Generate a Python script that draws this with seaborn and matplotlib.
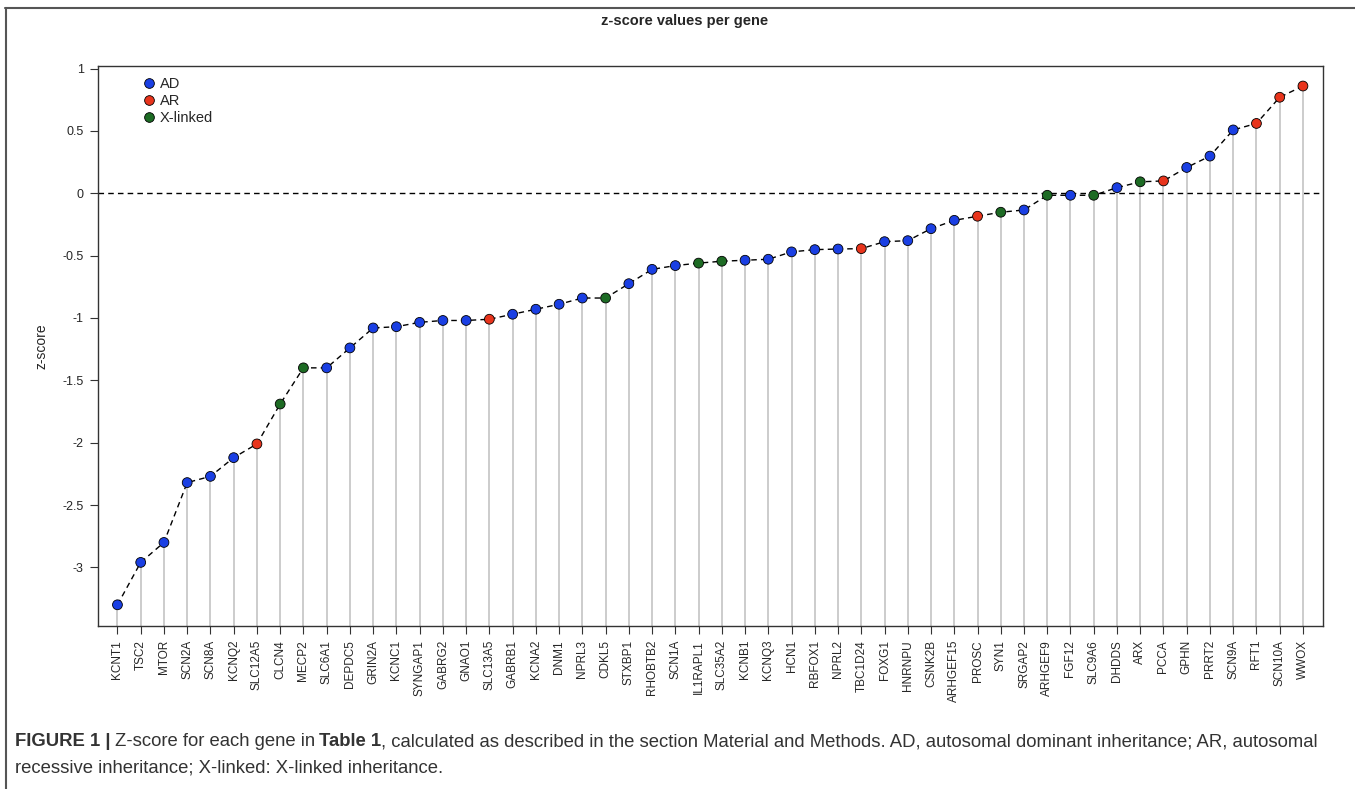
import matplotlib
matplotlib.use("Agg")
import matplotlib.pyplot as plt
import matplotlib.lines as mlines
import pandas as pd
import seaborn as sns

# genes ordered by z-score, as in the figure
genes = ["KCNT1", "TSC2", "MTOR", "SCN2A", "SCN8A", "KCNQ2", "SLC12A5", "CLCN4",
         "MECP2", "SLC6A1", "DEPDC5", "GRIN2A", "KCNC1", "SYNGAP1", "GABRG2", "GNAO1",
         "SLC13A5", "GABRB1", "KCNA2", "DNM1", "NPRL3", "CDKL5", "STXBP1", "RHOBTB2",
         "SCN1A", "IL1RAPL1", "SLC35A2", "KCNB1", "KCNQ3", "HCN1", "RBFOX1", "NPRL2",
         "TBC1D24", "FOXG1", "HNRNPU", "CSNK2B", "ARHGEF15", "PROSC", "SYN1", "SRGAP2",
         "ARHGEF9", "FGF12", "SLC9A6", "DHDDS", "ARX", "PCCA", "GPHN", "PRRT2",
         "SCN9A", "RFT1", "SCN10A", "WWOX"]
zscores = [-3.30, -2.96, -2.80, -2.32, -2.27, -2.12, -2.01, -1.69,
           -1.40, -1.40, -1.24, -1.08, -1.07, -1.035, -1.02, -1.02,
           -1.01, -0.97, -0.93, -0.89, -0.84, -0.84, -0.725, -0.61,
           -0.58, -0.56, -0.545, -0.537, -0.529, -0.47, -0.452, -0.447,
           -0.444, -0.388, -0.38, -0.284, -0.217, -0.184, -0.152, -0.134,
           -0.016, -0.016, -0.016, 0.045, 0.092, 0.099, 0.207, 0.298,
           0.508, 0.56, 0.77, 0.86]
inheritance = ["AD", "AD", "AD", "AD", "AD", "AD", "AR", "X-linked",
               "X-linked", "AD", "AD", "AD", "AD", "AD", "AD", "AD",
               "AR", "AD", "AD", "AD", "AD", "X-linked", "AD", "AD",
               "AD", "X-linked", "X-linked", "AD", "AD", "AD", "AD", "AD",
               "AR", "AD", "AD", "AD", "AD", "AR", "X-linked", "AD",
               "X-linked", "AD", "X-linked", "AD", "X-linked", "AR", "AD", "AD",
               "AD", "AR", "AR", "AR"]
groups = ["AD", "AR", "X-linked"]
yticks = [-3, -2.5, -2, -1.5, -1, -0.5, 0, 0.5, 1]

palette = {"AD": "#1a3fe3", "AR": "#e8341c", "X-linked": "#1d6b24"}

sns.set_style("ticks")
plt.rcParams['font.family'] = ['Liberation Sans', 'DejaVu Sans']

df = pd.DataFrame({"gene": genes, "z": zscores, "inh": inheritance})
df["pos"] = range(1, len(df) + 1)

W, H = 1355, 789
fig = plt.figure(figsize=(W / 100, H / 100), dpi=100)
ax = fig.add_axes([97.7 / W, 163 / H, 1225 / W, 560.3 / H])
ylo, yhi = -3.47, 1.023

# stems down to the bottom of the box
ax.vlines(df["pos"], ylo, df["z"], color="#c4c4c4", lw=1.2, zorder=1)
ax.axhline(0, color="black", lw=1, ls=(0, (4, 3)), zorder=2)
sns.lineplot(data=df, x="pos", y="z", color="black", lw=1, linestyle=(0, (4, 3)),
             ax=ax, zorder=3)
sns.scatterplot(data=df, x="pos", y="z", hue="inh", hue_order=groups, palette=palette,
                s=50, edgecolor="black", linewidth=0.6, ax=ax, zorder=4, legend=False)

ax.set_xlim(0.15, len(df) + 0.85)
ax.set_ylim(ylo, yhi)
ax.set_xticks(df["pos"])
ax.set_xticklabels(df["gene"], rotation=90, fontsize=8.5)
ax.set_yticks(yticks)
ax.set_yticklabels([f"{t:g}" for t in yticks], fontsize=9)
ax.tick_params(length=6, width=0.8, color="#333333", pad=4)
ax.set_xlabel("")
ax.set_ylabel("z-score", fontsize=10, labelpad=10)
for sp in ax.spines.values():
    sp.set_visible(True)
    sp.set_color("#333333")
    sp.set_linewidth(1)

handles = [mlines.Line2D([], [], marker="o", ls="", markersize=7,
                         markerfacecolor=palette[g], markeredgecolor="black",
                         markeredgewidth=0.6, label=g) for g in groups]
ax.legend(handles=handles, loc="upper left", bbox_to_anchor=(0.025, 1.0),
          frameon=False, fontsize=10.5, handletextpad=0.15, labelspacing=0.2,
          handlelength=1.2, borderpad=0.3)

fig.text(0.505, 1 - 21 / H, "z-score values per gene", ha="center", va="center",
         fontsize=10.5, fontweight="bold")

# journal frame
fig.add_artist(mlines.Line2D([5 / W, 1], [1 - 8 / H] * 2, transform=fig.transFigure,
                             color="#555555", lw=1.5))
fig.add_artist(mlines.Line2D([6 / W] * 2, [0, 1 - 8 / H], transform=fig.transFigure,
                             color="#555555", lw=1.5))

# caption with bold pieces
cap_kw = dict(fontsize=13.35, color="#333333")
t = fig.text(15 / W, 1 - 742 / H, "FIGURE 1 |", fontweight="bold", va="center", **cap_kw)
pieces = [("Z-score for each gene in", "normal", 3),
          ("Table 1", "bold", 3),
          (", calculated as described in the section Material and Methods. AD, autosomal "
           "dominant inheritance; AR, autosomal", "normal", 0)]
for txt, wt, gap in pieces:
    t = ax.annotate(txt, xy=(1, 0.5), xycoords=t, xytext=(gap, 0),
                    textcoords="offset points", va="center", fontweight=wt,
                    annotation_clip=False, **cap_kw)
fig.text(15 / W, 1 - 768 / H, "recessive inheritance; X-linked: X-linked inheritance.",
         va="center", **cap_kw)

fig.savefig("out.png", dpi=100)
